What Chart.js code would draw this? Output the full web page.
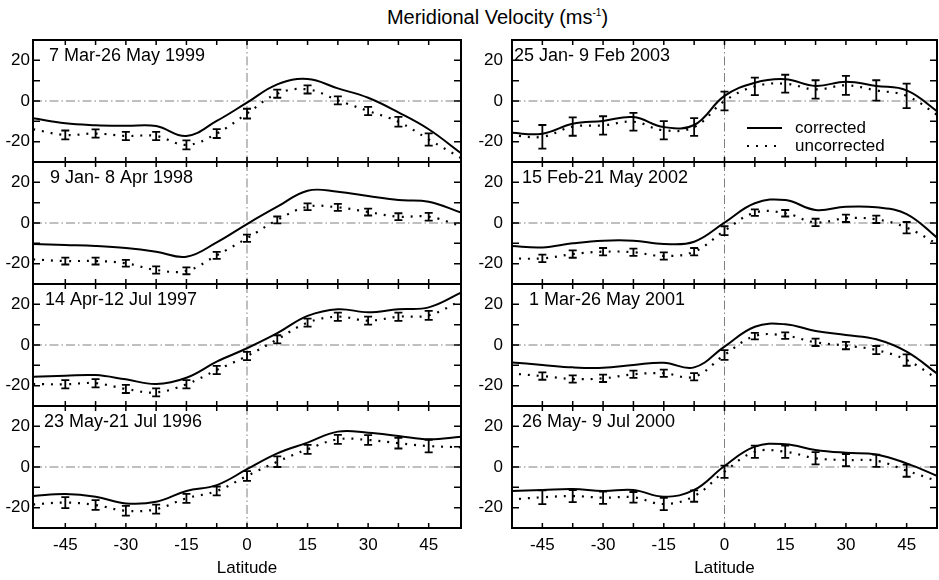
<!DOCTYPE html>
<html>
<head>
<meta charset="utf-8">
<script src="https://cdn.jsdelivr.net/npm/chart.js@4.4.0/dist/chart.umd.min.js"></script>
<style>
body { margin: 0; background: #fff; width: 939px; height: 580px; position: relative; overflow: hidden; font-family: "Liberation Sans", Arial, sans-serif; }
canvas { position: absolute; }
#title { position: absolute; left: 0; width: 995px; top: 6px; text-align: center; font-size: 20px; color: #000; }
#title sup { font-size: 10px; }
</style>
</head>
<body>
<div id="title">Meridional Velocity (ms<sup>-1</sup>)</div>
<script>
const FONT = '"Liberation Sans", Arial, sans-serif'

// latitudes where the curves were read, and where the error bars sit
const lat = [-53, -45, -37.5, -30, -22.5, -15, -7.5, 0, 7.5, 15, 22.5, 30, 37.5, 45, 53]
const barLat = [-45, -37.5, -30, -22.5, -15, -7.5, 0, 7.5, 15, 22.5, 30, 37.5, 45]
const xTicks = [-45, -30, -15, 0, 15, 30, 45]
const yTicks = [-20, 0, 20]

// left column
const corr1999 = [-8.5, -11, -11.9, -12.2, -12.3, -17.2, -9.8, -0.8, 8.2, 10.8, 6.2, 1.6, -5.6, -13.9, -25.7]
const unc1999 = [-13.9, -16.7, -16, -17.2, -17.2, -21.6, -16, -6.2, 3.6, 5.7, 0.3, -4.9, -10.2, -18.9, -28]
const err1999 = [2.2, 2, 2, 2, 2.2, 2.2, 2.4, 2, 2, 2, 2, 2.4, 3]

const corr1998 = [-10.3, -10.8, -11.3, -12.3, -14.1, -16.6, -9.5, -0.5, 8, 15.9, 15.4, 13.3, 11.3, 10.5, 5.1]
const unc1998 = [-17.9, -18.7, -18.7, -19.8, -23.1, -23.5, -15.9, -7.5, 1.5, 8, 7.7, 5.4, 3.1, 3.1, -1.5]
const err1998 = [1.7, 1.7, 1.7, 1.8, 1.7, 1.7, 1.8, 1.7, 1.7, 1.7, 1.7, 1.7, 1.9]

const corr1997 = [-15.6, -15.1, -14.8, -16.9, -19.2, -16.1, -8.2, -1.6, 5.8, 14.3, 17.6, 16.1, 17.6, 18.5, 25.7]
const unc1997 = [-19.2, -19.3, -18.8, -21.6, -23.3, -19.3, -12.3, -5.4, 2.8, 11, 13.9, 12, 13.9, 14.6, 21.8]
const err1997 = [2, 2, 2, 2, 2, 2, 2, 2, 2, 2, 2, 2, 2.2]

const corr1996 = [-14.3, -13.3, -14.6, -17.9, -17.1, -11.8, -8.9, -1.1, 6.7, 12, 17.4, 16.9, 15.3, 13.6, 14.9]
const unc1996 = [-18.4, -17.5, -18.7, -21.5, -20.7, -15.4, -11.8, -4.4, 2.6, 8.7, 13.6, 13.3, 11.7, 10.3, 9.7]
const err1996 = [2.7, 2.4, 2.4, 2.2, 2.2, 2.2, 2.4, 2.6, 2.2, 2.2, 2.4, 2.6, 3.1]

// right column
const corr2003 = [-15.6, -16.1, -11.2, -9.8, -7.9, -12.8, -11.8, 2.5, 9, 10.7, 7.4, 9.5, 7.4, 5.2, -5.7]
const unc2003 = [-16.7, -17.6, -12.6, -12, -10.2, -14.4, -12.8, 0, 7.2, 8.5, 5.7, 7.7, 5.2, 2.5, -7.4]
const err2003 = [5.8, 4.5, 4.5, 4.4, 4.5, 4.4, 4.6, 4.3, 4.4, 4.5, 4.7, 5, 6]

const corr2002 = [-11.3, -12, -10, -8.7, -8.7, -10.3, -9.2, 0.2, 9.7, 11.3, 6.4, 8, 7.7, 4.4, -8]
const unc2002 = [-17.4, -17.4, -15.3, -14.1, -14.4, -16.2, -14.1, -3.8, 5.1, 4.8, 0.3, 2.3, 1.8, -2.3, -10.8]
const err2002 = [1.8, 1.8, 1.8, 1.8, 1.8, 1.8, 2.2, 1.6, 1.6, 1.8, 1.8, 1.8, 2.8]

const corr2001 = [-8.5, -9.8, -11, -11.2, -9.8, -8.7, -11, -0.8, 9, 10.2, 6.9, 4.9, 2.8, -3.3, -14.8]
const unc2001 = [-13.9, -15.3, -16.7, -16.4, -14.4, -13.9, -15.6, -4.9, 4.4, 4.6, 1.3, -0.3, -2.5, -7.4, -17.2]
const err2001 = [1.8, 1.8, 1.8, 1.8, 1.8, 1.8, 2.4, 1.6, 1.6, 1.8, 1.8, 2, 2.8]

const corr2000 = [-11.8, -11.3, -10.8, -11.8, -11.3, -14.6, -11.3, 0.5, 10, 11.2, 8.4, 7, 6.2, 1.8, -4.8]
const unc2000 = [-16, -14.9, -14.3, -15.1, -14.9, -18.2, -14.3, -2.3, 7.5, 7.5, 4.3, 3.4, 3.1, -1.8, -7.2]
const err2000 = [3.4, 3, 3, 2.6, 3, 2.8, 3, 3, 3, 3, 3, 3, 3]

const panels = [
  { label: '7 Mar-26 May 1999', corr: corr1999, unc: unc1999, err: err1999, col: 0, row: 0, dx: 16 },
  { label: '9 Jan- 8 Apr 1998', corr: corr1998, unc: unc1998, err: err1998, col: 0, row: 1, dx: 17 },
  { label: '14 Apr-12 Jul 1997', corr: corr1997, unc: unc1997, err: err1997, col: 0, row: 2, dx: 12 },
  { label: '23 May-21 Jul 1996', corr: corr1996, unc: unc1996, err: err1996, col: 0, row: 3, dx: 11 },
  { label: '25 Jan- 9 Feb 2003', corr: corr2003, unc: unc2003, err: err2003, col: 1, row: 0, dx: 2, legend: true },
  { label: '15 Feb-21 May 2002', corr: corr2002, unc: unc2002, err: err2002, col: 1, row: 1, dx: 10 },
  { label: '1 Mar-26 May 2001', corr: corr2001, unc: unc2001, err: err2001, col: 1, row: 2, dx: 17 },
  { label: '26 May- 9 Jul 2000', corr: corr2000, unc: unc2000, err: err2000, col: 1, row: 3, dx: 10 },
]

const cols = [
  { left: 0, width: 470, axisW: 33, padR: 9, xMax: 53, tickPad: 3 },
  { left: 470, width: 469, axisW: 42, padR: 2, xMax: 52.5, tickPad: 9 },
]
const rowTops = [40, 162, 284, 406]
const panelH = 122
const DOTS = [2, 7]

const panelPlugin = {
  id: 'panel',
  beforeDatasetsDraw(chart) {
    const { ctx, chartArea: a, scales: { x, y } } = chart
    const x0 = x.getPixelForValue(0), y0 = y.getPixelForValue(0)
    ctx.save()
    ctx.strokeStyle = '#808080'
    ctx.lineWidth = 1
    ctx.setLineDash([9, 3, 1.5, 3])
    ctx.beginPath()
    ctx.moveTo(a.left, y0); ctx.lineTo(a.right, y0)
    ctx.moveTo(x0, a.top); ctx.lineTo(x0, a.bottom)
    ctx.stroke()
    ctx.restore()
  },
  afterDatasetsDraw(chart, args, opts) {
    const { ctx, chartArea: a, scales: { x, y } } = chart
    ctx.save()
    ctx.strokeStyle = '#000'

    // error bars on the uncorrected values
    ctx.lineWidth = 1.8
    barLat.forEach((lt, i) => {
      const v = opts.unc[lat.indexOf(lt)]
      const px = x.getPixelForValue(lt)
      const yt = y.getPixelForValue(v + opts.err[i])
      const yb = y.getPixelForValue(v - opts.err[i])
      ctx.beginPath()
      ctx.moveTo(px, yt); ctx.lineTo(px, yb)
      ctx.moveTo(px - 4, yt); ctx.lineTo(px + 4, yt)
      ctx.moveTo(px - 4, yb); ctx.lineTo(px + 4, yb)
      ctx.stroke()
    })

    // inward ticks
    ctx.lineWidth = 1.5
    ctx.beginPath()
    for (let v = -45; v <= 45; v += 7.5) {
      const px = x.getPixelForValue(v)
      ctx.moveTo(px, a.top); ctx.lineTo(px, a.top + 5)
      ctx.moveTo(px, a.bottom); ctx.lineTo(px, a.bottom - 5)
    }
    for (let v = -20; v <= 20; v += 10) {
      const py = y.getPixelForValue(v)
      ctx.moveTo(a.left, py); ctx.lineTo(a.left + 7, py)
      ctx.moveTo(a.right, py); ctx.lineTo(a.right - 7, py)
    }
    ctx.stroke()

    // frame
    ctx.lineWidth = 2
    ctx.strokeRect(a.left, a.top, a.right - a.left, a.bottom - a.top)

    // period label
    ctx.fillStyle = '#000'
    ctx.font = '18px ' + FONT
    ctx.textBaseline = 'alphabetic'
    ctx.fillText(opts.label, a.left + opts.dx, a.top + 21)

    if (opts.legend) {
      ctx.font = '17px ' + FONT
      ctx.textBaseline = 'middle'
      const lx = a.left + 235, ly = a.top + 88
      ctx.lineWidth = 2
      ctx.beginPath(); ctx.moveTo(lx, ly); ctx.lineTo(lx + 35, ly); ctx.stroke()
      ctx.setLineDash(DOTS)
      ctx.beginPath(); ctx.moveTo(lx, ly + 18); ctx.lineTo(lx + 35, ly + 18); ctx.stroke()
      ctx.setLineDash([])
      ctx.fillText('corrected', lx + 48, ly)
      ctx.fillText('uncorrected', lx + 48, ly + 18)
    }
    ctx.restore()
  }
}

function makePanel(p) {
  const col = cols[p.col]
  const bottom = p.row === 3
  const top = rowTops[p.row] - 8
  const h = bottom ? 580 - top : panelH + 16
  const cv = document.createElement('canvas')
  cv.width = col.width; cv.height = h
  cv.style.left = col.left + 'px'; cv.style.top = top + 'px'
  cv.style.width = col.width + 'px'; cv.style.height = h + 'px'
  document.body.appendChild(cv)

  new Chart(cv, {
    type: 'line',
    data: {
      datasets: [
        { label: 'corrected', data: lat.map((v, i) => ({ x: v, y: p.corr[i] })),
          borderColor: '#000', borderWidth: 2, pointRadius: 0, tension: 0.4 },
        { label: 'uncorrected', data: lat.map((v, i) => ({ x: v, y: p.unc[i] })),
          borderColor: '#000', borderWidth: 2.2, borderDash: DOTS, pointRadius: 0, tension: 0.4 },
      ]
    },
    options: {
      responsive: false,
      animation: false,
      events: [],
      layout: { padding: { top: 8, bottom: bottom ? 0 : 8, left: 0, right: col.padR } },
      plugins: {
        legend: { display: false },
        tooltip: { enabled: false },
        panel: { label: p.label, dx: p.dx, unc: p.unc, err: p.err, legend: !!p.legend },
      },
      scales: {
        x: {
          type: 'linear', min: -col.xMax, max: col.xMax, display: bottom,
          grid: { display: false, drawTicks: false }, border: { display: false },
          afterBuildTicks: s => { s.ticks = xTicks.map(v => ({ value: v })) },
          afterFit: s => {
            if (!bottom) return
            s.height = 52; s.paddingLeft = 0; s.paddingRight = 0
          },
          ticks: { padding: 7, color: '#000', maxRotation: 0, autoSkip: false, font: { size: 17, family: FONT } },
          title: { display: true, text: 'Latitude', color: '#000', font: { size: 17, family: FONT }, padding: { top: 0, bottom: 1 } },
        },
        y: {
          min: -30, max: 30,
          grid: { display: false, drawTicks: false }, border: { display: false },
          afterBuildTicks: s => { s.ticks = yTicks.map(v => ({ value: v })) },
          afterFit: s => { s.width = col.axisW; s.paddingTop = 0; s.paddingBottom = 0 },
          ticks: { padding: col.tickPad, color: '#000', font: { size: 17, family: FONT } },
        },
      },
    },
    plugins: [panelPlugin],
  })
}

panels.forEach(makePanel)
</script>
</body>
</html>
